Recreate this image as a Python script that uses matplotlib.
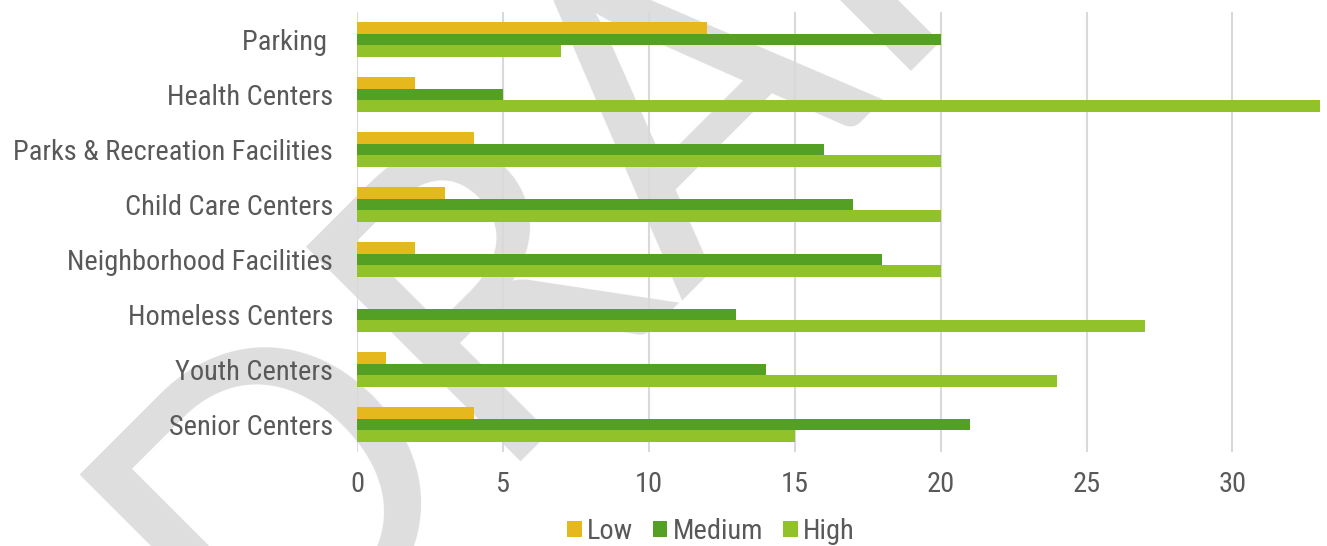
import numpy as np
import matplotlib
matplotlib.use("Agg")
import matplotlib.pyplot as plt
from matplotlib import font_manager

categories = ["Parking ", "Health Centers", "Parks & Recreation Facilities",
              "Child Care Centers", "Neighborhood Facilities", "Homeless Centers",
              "Youth Centers", "Senior Centers"]
low = [12, 2, 4, 3, 2, 0, 1, 4]
medium = [20, 5, 16, 17, 18, 13, 14, 21]
high = [7, 33, 20, 20, 20, 27, 24, 15]
x_ticks = [0, 5, 10, 15, 20, 25, 30]

col_low = "#E5B81E"
col_med = "#53A024"
col_high = "#92C229"
txt = "#595959"


def pick_font(names):
    for n in names:
        try:
            font_manager.findfont(font_manager.FontProperties(family=n), fallback_to_default=False)
            return n
        except Exception:
            pass
    return "DejaVu Sans"


label_font = pick_font(["Liberation Sans Narrow", "DejaVu Sans Condensed", "Roboto Condensed", "Lato"])
plt.rcParams["font.family"] = [label_font, "DejaVu Sans"]

fig = plt.figure(figsize=(13.27, 5.46), dpi=100)
ax = fig.add_axes([0.269, 0.1722, 0.7257, 0.8059])
ax.set_facecolor("none")

# watermark behind everything
fig.text(0.192, -0.262, "DRAFT", fontsize=305, rotation=45, rotation_mode="anchor",
         ha="left", va="baseline", color="#dedede", zorder=-1, family="Lato")

y = np.arange(len(categories))
h = 0.209
ax.barh(y - h, low, height=h, color=col_low, label="Low", zorder=3)
ax.barh(y, medium, height=h, color=col_med, label="Medium", zorder=3)
ax.barh(y + h, high, height=h, color=col_high, label="High", zorder=3)

ax.set_ylim(len(categories) - 0.5, -0.5)
ax.set_xlim(0, 33)
ax.set_yticks(y)
ax.set_yticklabels(categories)
ax.set_xticks(x_ticks)
ax.tick_params(axis="both", length=0, labelcolor=txt)
ax.tick_params(axis="y", pad=17)
ax.tick_params(axis="x", pad=14)
for s in ax.spines.values():
    s.set_visible(False)
ax.grid(axis="x", color="#d9d9d9", linewidth=1.5, zorder=1)
ax.set_axisbelow(True)

# size the labels so the longest one is as wide as in the original
r = fig.canvas.get_renderer()
probe = fig.text(0, 0, categories[2], fontsize=14)
w = probe.get_window_extent(r).width
probe.remove()
fs = 14 * 321 / w
for t in ax.get_yticklabels() + ax.get_xticklabels():
    t.set_fontsize(fs)

leg = fig.legend(loc="center", bbox_to_anchor=(0.536, 0.027), ncol=3, frameon=False,
                 fontsize=fs, handlelength=0.5, handleheight=0.5, handletextpad=0.2,
                 columnspacing=0.7)
for t in leg.get_texts():
    t.set_color(txt)

fig.savefig("out.png", dpi=100)
